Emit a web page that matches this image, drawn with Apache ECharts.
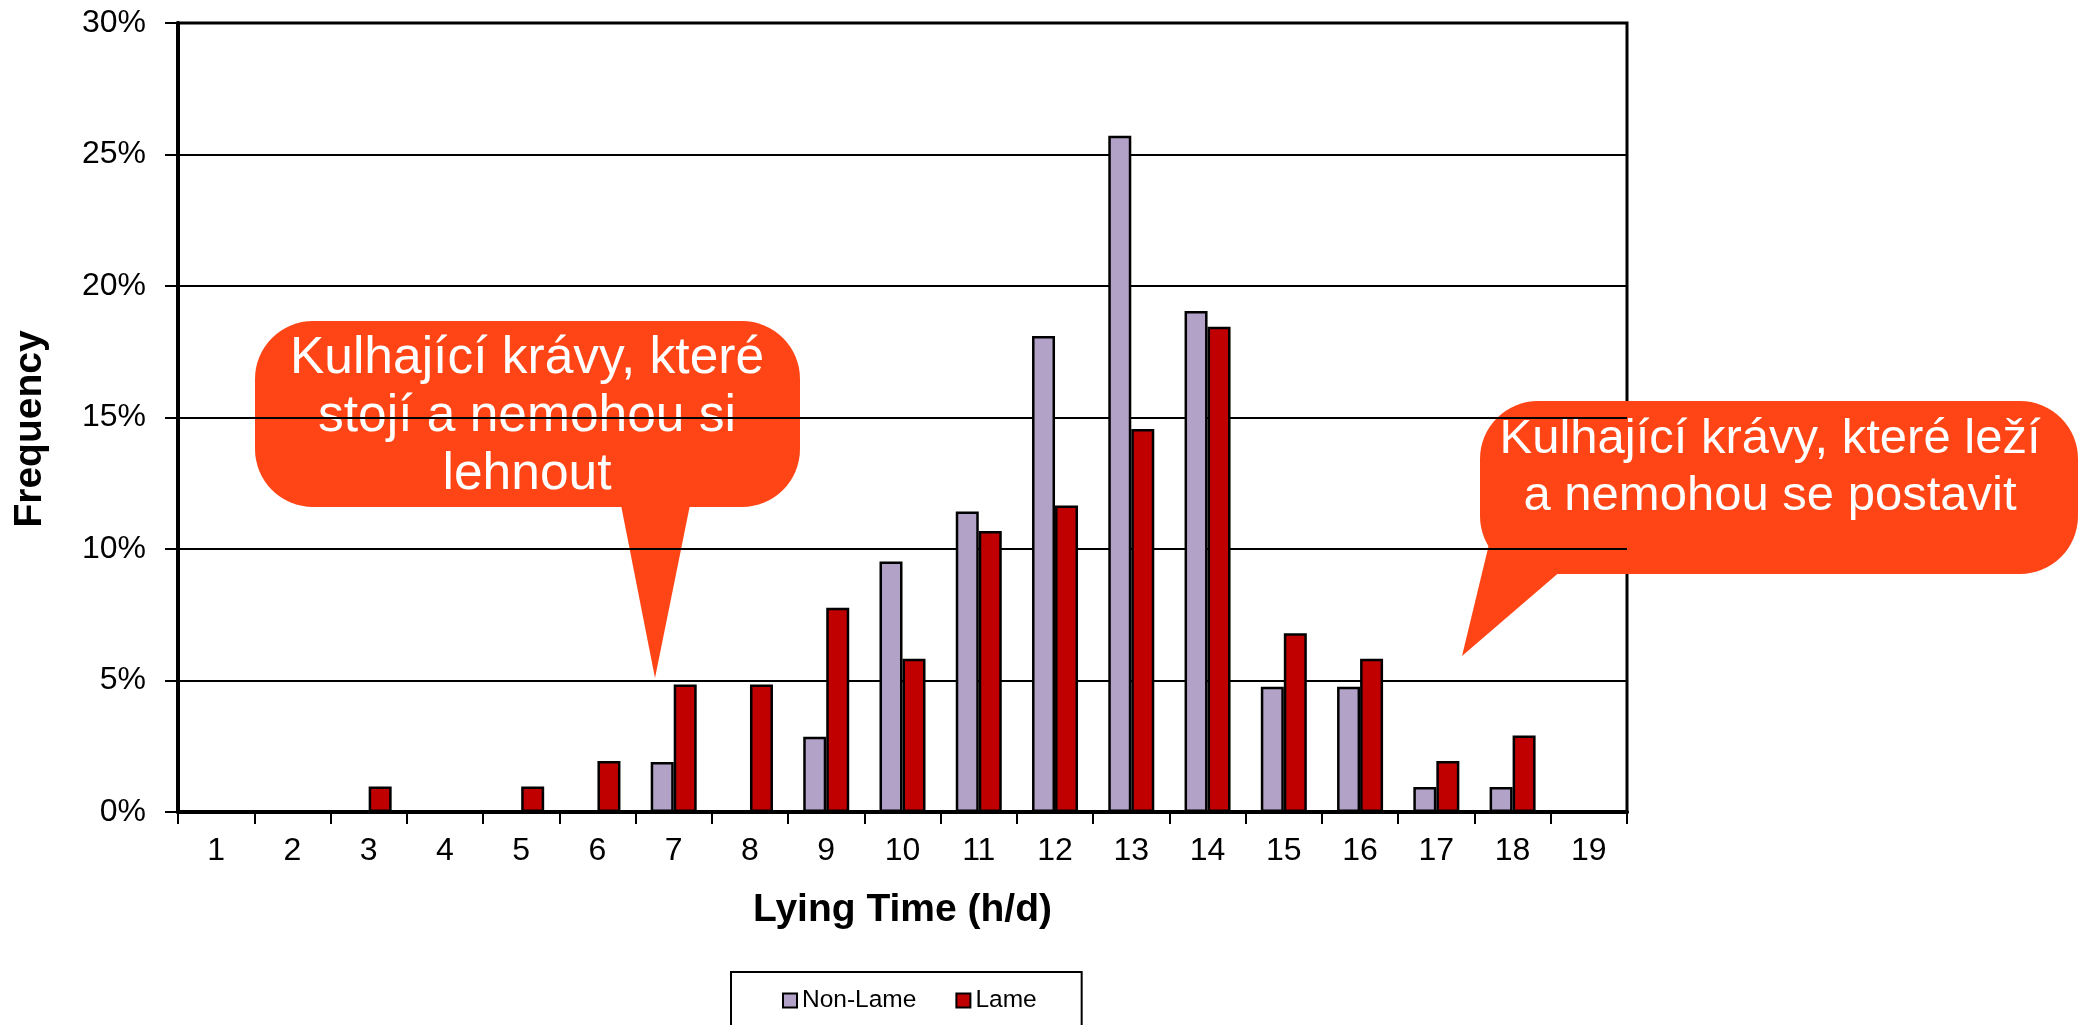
<!DOCTYPE html>
<html>
<head>
<meta charset="utf-8">
<script src="https://cdn.jsdelivr.net/npm/echarts@6/dist/echarts.min.js"></script>
<style>
html,body{margin:0;padding:0;background:#fff;}
#chart{width:2087px;height:1025px;}
</style>
</head>
<body>
<div id="chart"></div>
<script>
const categories = ['1','2','3','4','5','6','7','8','9','10','11','12','13','14','15','16','17','18','19'];
const nonLame = [0,0,0,0,0,0,1.9,0,2.86,9.52,11.43,18.1,25.71,19.05,4.76,4.76,0.95,0.95,0];
const lame = [0,0,0.97,0,0.97,1.94,4.85,4.85,7.77,5.83,10.68,11.65,14.56,18.45,6.8,5.83,1.94,2.91,0];
const yTicks = {min:0, max:30, interval:5};
const seriesNames = ['Non-Lame','Lame'];
const xName = 'Lying Time (h/d)';
const yName = 'Frequency';
const callout1 = 'Kulhající krávy, které\nstojí a nemohou si\nlehnout';
const callout2 = 'Kulhající krávy, které leží\na nemohou se postavit';

const FONT = '"Liberation Sans", Arial, sans-serif';
const ORANGE = '#FF4515';

const chart = echarts.init(document.getElementById('chart'), null, {renderer:'canvas'});
chart.setOption({
  backgroundColor:'#fff',
  animation:false,
  textStyle:{fontFamily:FONT},
  grid:{left:178, top:23, width:1449, height:789, show:true, borderColor:'#000', borderWidth:3, containLabel:false},
  legend:{
    data:seriesNames, left:731, top:972, orient:'horizontal',
    borderColor:'#000', borderWidth:2, padding:[16,45,16,51],
    itemWidth:14, itemHeight:14, itemGap:39, icon:'rect',
    itemStyle:{borderColor:'#000', borderWidth:2},
    textStyle:{fontFamily:FONT, fontSize:24.5, color:'#000'}
  },
  xAxis:{
    type:'category', data:categories, boundaryGap:true,
    name:xName, nameLocation:'middle', nameGap:79,
    nameTextStyle:{fontFamily:FONT, fontSize:39, fontWeight:'bold', color:'#000'},
    axisLine:{show:true, lineStyle:{color:'#000', width:4}},
    axisTick:{show:true, inside:false, length:12, lineStyle:{color:'#000', width:2}},
    axisLabel:{fontFamily:FONT, fontSize:32, color:'#000', margin:23, interval:0},
    splitLine:{show:false}
  },
  yAxis:{
    type:'value', min:yTicks.min, max:yTicks.max, interval:yTicks.interval,
    name:yName, nameLocation:'middle', nameGap:128, nameRotate:90,
    nameTextStyle:{fontFamily:FONT, fontSize:39, fontWeight:'bold', color:'#000', padding:[0,23,0,0]},
    axisLine:{show:true, lineStyle:{color:'#000', width:4}},
    axisTick:{show:true, inside:false, length:13, lineStyle:{color:'#000', width:2}},
    axisLabel:{fontFamily:FONT, fontSize:32, color:'#000', margin:32, formatter:'{value}%'},
    splitLine:{show:true, lineStyle:{color:'#000', width:2}}
  },
  series:[
    {name:seriesNames[0], type:'bar', data:nonLame, barWidth:23, barGap:'0%',
     itemStyle:{color:'#B3A2C7', borderColor:'#000', borderWidth:2.5}},
    {name:seriesNames[1], type:'bar', data:lame, barWidth:23, barGap:'0%',
     itemStyle:{color:'#C00000', borderColor:'#000', borderWidth:2.5}}
  ],
  graphic:[
    {type:'group', z:100, children:[
      {type:'rect', shape:{x:255, y:321, width:545, height:186, r:58}, style:{fill:ORANGE}},
      {type:'polygon', shape:{points:[[620,500],[655,678],[691,500]]}, style:{fill:ORANGE}},
      {type:'text', x:527, y:417, style:{text:callout1, fill:'#fff', font:'51.5px ' + FONT, align:'center', verticalAlign:'middle', lineHeight:58}}
    ]},
    {type:'group', z:100, children:[
      {type:'rect', shape:{x:1480, y:401, width:598, height:173, r:58}, style:{fill:ORANGE}},
      {type:'polygon', shape:{points:[[1490,540],[1462,656],[1562,570]]}, style:{fill:ORANGE}},
      {type:'text', x:1770, y:468, style:{text:callout2, fill:'#fff', font:'49px ' + FONT, align:'center', verticalAlign:'middle', lineHeight:57}}
    ]}
  ]
});
</script>
</body>
</html>
